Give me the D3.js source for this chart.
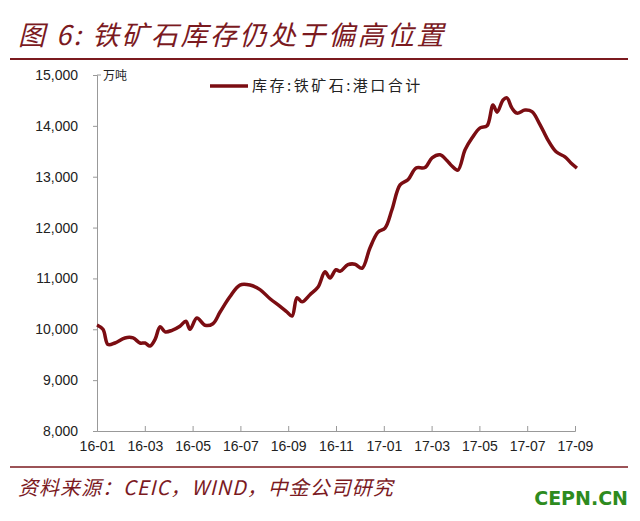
<!DOCTYPE html><html><head><meta charset="utf-8"><script src="https://d3js.org/d3.v7.min.js"></script>
<style>body{margin:0;background:#fff}</style></head><body><svg id="c" width="640" height="521"></svg>
<script>
const months=[0,0.25,0.46,0.75,1.17,1.51,1.80,2.01,2.22,2.43,2.64,2.85,3.14,3.47,3.72,3.89,4.18,4.52,4.85,5.15,5.56,5.98,6.40,6.82,7.24,7.66,7.95,8.16,8.37,8.58,8.91,9.25,9.54,9.75,10.0,10.17,10.50,10.79,11.09,11.42,11.76,12.05,12.34,12.68,13.01,13.35,13.72,14.02,14.35,14.64,14.85,15.10,15.40,15.69,16.03,16.32,16.57,16.74,16.99,17.15,17.36,17.57,17.91,18.20,18.54,18.87,19.21,19.58,19.83,20.08];
const values=[10085,10000,9700,9730,9830,9830,9730,9730,9670,9800,10050,9950,9980,10060,10160,10000,10220,10080,10110,10340,10640,10870,10870,10780,10600,10450,10340,10260,10620,10540,10680,10830,11130,11010,11170,11140,11270,11280,11200,11600,11910,11990,12350,12840,12940,13170,13180,13370,13430,13320,13210,13130,13530,13760,13960,14000,14410,14270,14510,14550,14350,14250,14310,14280,14020,13720,13490,13390,13270,13170];
const yTicks=[8000,9000,10000,11000,12000,13000,14000,15000];
const xLabels=["16-01","16-03","16-05","16-07","16-09","16-11","17-01","17-03","17-05","17-07","17-09"];
const svg=d3.select("#c");
const red="#7b0d12";
const x=d3.scaleLinear().domain([0,20]).range([97,575]);
const y=d3.scaleLinear().domain([8000,15000]).range([431,75]);
svg.append("text").attr("x",18).attr("y",45).attr("font-family","Noto Sans CJK SC").attr("font-style","italic").attr("font-size",27).attr("letter-spacing",2.5).attr("fill","#7b1a1f").text("图 6:  铁矿石库存仍处于偏高位置");
svg.append("line").attr("x1",10).attr("x2",628).attr("y1",59).attr("y2",59).attr("stroke","#7b1a1f").attr("stroke-width",2);
svg.append("line").attr("x1",10).attr("x2",628).attr("y1",467).attr("y2",467).attr("stroke","#7b1a1f").attr("stroke-width",1.5);
svg.append("text").attr("x",18).attr("y",495).attr("font-family","Noto Sans CJK SC").attr("font-style","italic").attr("font-size",20).attr("letter-spacing",1).attr("fill","#7b1a1f").text("资料来源：CEIC，WIND，中金公司研究");
svg.append("text").attr("x",628).attr("y",505).attr("text-anchor","end").attr("font-family","DejaVu Sans").attr("font-weight","bold").attr("font-size",19).attr("fill","#2e8b1e").text("CEPN.CN");
const ya=svg.append("g").attr("transform","translate(97,0)").call(d3.axisLeft(y).tickValues(yTicks).tickFormat(d3.format(",")).tickSize(4).tickPadding(15));
ya.selectAll("text").attr("font-family","Liberation Sans").attr("font-size",14).attr("fill","#222");
ya.select(".domain").attr("stroke","#999");ya.selectAll(".tick line").attr("stroke","#999");
ya.append("line").attr("x1",0).attr("x2",4).attr("y1",y(15000)).attr("y2",y(15000)).attr("stroke","#999");
const xa=svg.append("g").attr("transform","translate(0,431)").call(d3.axisBottom(x).tickValues(d3.range(0,21,2)).tickFormat((d,i)=>xLabels[i]).tickSize(-5).tickPadding(10));
xa.selectAll("text").attr("font-family","Liberation Sans").attr("font-size",14).attr("fill","#222");
xa.select(".domain").attr("stroke","#999");xa.selectAll(".tick line").attr("stroke","#999");
svg.append("text").attr("x",103).attr("y",80).attr("font-family","Noto Sans CJK SC").attr("font-size",12).attr("fill","#222").text("万吨");
const pts=months.map((m,i)=>[m,values[i]]);
svg.append("path").datum(pts).attr("fill","none").attr("stroke",red).attr("stroke-width",3.5).attr("stroke-linejoin","round")
 .attr("d",d3.line().x(d=>x(d[0])).y(d=>y(d[1])).curve(d3.curveCatmullRom.alpha(0.5)));
svg.append("line").attr("x1",210).attr("x2",248).attr("y1",86).attr("y2",86).attr("stroke",red).attr("stroke-width",3.5);
svg.append("text").attr("x",252).attr("y",91).attr("font-family","Noto Sans CJK SC").attr("font-size",15).attr("letter-spacing",2.5).attr("fill","#222").text("库存:铁矿石:港口合计");
</script></body></html>
